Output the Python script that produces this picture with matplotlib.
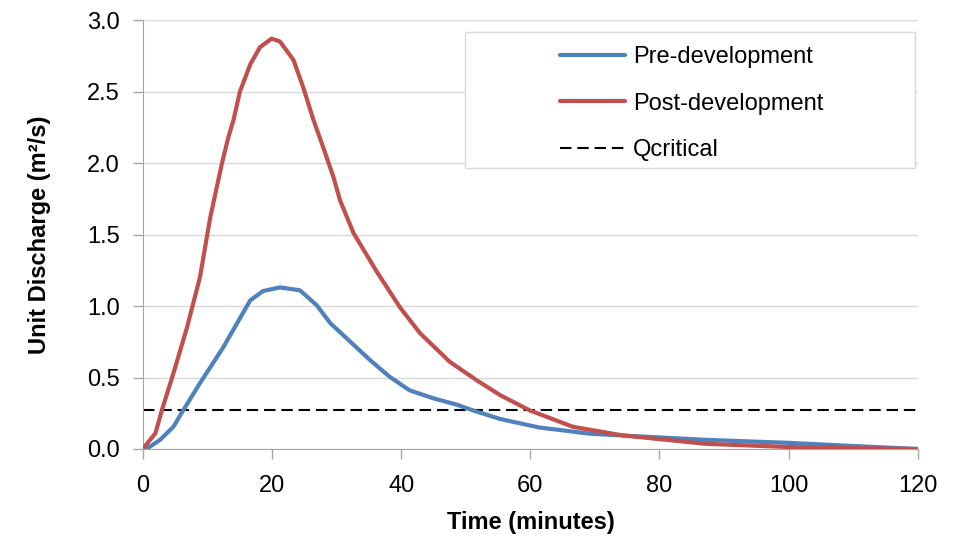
import matplotlib.pyplot as plt
from matplotlib.patches import Rectangle

plt.rcParams['font.family'] = ['Liberation Sans', 'DejaVu Sans']

# values
t_pre = [0, 1.0, 2.6, 4.7, 6.2, 8.8, 12.4, 16.6, 18.6, 21.2, 24.3, 26.9, 29.0,
         32.1, 35.2, 38.2, 41.3, 45.0, 48.6, 51.1, 55.3, 61.4, 69.2, 76.9, 87.2,
         100, 110.4, 120]
q_pre = [0, 0.015, 0.063, 0.156, 0.27, 0.46, 0.71, 1.04, 1.105, 1.13, 1.11, 1.005, 0.88,
         0.75, 0.62, 0.505, 0.41, 0.354, 0.31, 0.27, 0.21, 0.15, 0.107, 0.088, 0.064,
         0.043, 0.02, 0]

t_post = [0, 0.3, 1.9, 2.9, 4.7, 6.8, 8.8, 10.4, 12.2, 13.2, 14.0, 15.0, 16.6,
          18.1, 19.9, 21.2, 23.3, 24.8, 26.4, 27.9, 29.5, 30.5, 32.6, 36.2, 39.8,
          42.9, 47.5, 51.7, 55.3, 59.9, 66.6, 74.3, 87.2, 100, 110, 120]
q_post = [0, 0.02, 0.11, 0.27, 0.53, 0.85, 1.20, 1.62, 1.995, 2.18, 2.30, 2.50, 2.69,
          2.81, 2.87, 2.85, 2.72, 2.53, 2.30, 2.11, 1.90, 1.74, 1.51, 1.24, 0.99,
          0.81, 0.61, 0.48, 0.377, 0.27, 0.155, 0.095, 0.036, 0.014, 0.006, 0]

q_critical = 0.27

x_ticks = [0, 20, 40, 60, 80, 100, 120]
y_ticks = [0.0, 0.5, 1.0, 1.5, 2.0, 2.5, 3.0]

fig = plt.figure(figsize=(9.67, 5.42), dpi=100)
ax = fig.add_axes([0.148, 0.1716, 0.801, 0.7914])

ax.plot(t_pre, q_pre, color='#4F81BD', lw=3, label='Pre-development',
        solid_capstyle='round', solid_joinstyle='round', zorder=3)
ax.plot(t_post, q_post, color='#C0504D', lw=3, label='Post-development',
        solid_capstyle='round', solid_joinstyle='round', zorder=4)
ax.axhline(q_critical, color='black', lw=1.5, ls=(0, (5.5, 2.8)), label='Qcritical',
           zorder=2)

ax.set_xlim(0, 120)
ax.set_ylim(0, 3.0)
ax.set_xticks(x_ticks)
ax.set_yticks(y_ticks)
ax.set_yticklabels([f'{v:.1f}' for v in y_ticks])

ax.grid(axis='y', color='#D9D9D9', lw=1)
ax.set_axisbelow(True)
for s in ['top', 'right']:
    ax.spines[s].set_visible(False)
for s in ['left', 'bottom']:
    ax.spines[s].set_color('#A6A6A6')
ax.tick_params(axis='both', colors='#A6A6A6', labelcolor='black', labelsize=17,
               length=7, width=1)
ax.tick_params(axis='x', pad=12)
ax.tick_params(axis='y', pad=10)

ax.set_xlabel('Time (minutes)', fontsize=17, fontweight='bold', labelpad=10)
ax.set_ylabel('Unit Discharge (m²/s)', fontsize=17, fontweight='bold',
              labelpad=26)

# legend frame drawn separately, wider than the entries like the original
ax.add_patch(Rectangle((0.4155, 0.655), 0.5805, 0.317, transform=ax.transAxes,
                       facecolor='white', edgecolor='#D9D9D9', lw=1, zorder=5,
                       clip_on=False))
leg = ax.legend(loc='upper left', bbox_to_anchor=(0.538, 0.939), fontsize=17,
                frameon=False, handlelength=2.75, labelspacing=1.03,
                borderpad=0, borderaxespad=0, handletextpad=0.35)
leg.set_zorder(6)

fig.savefig('out.png', dpi=100)
